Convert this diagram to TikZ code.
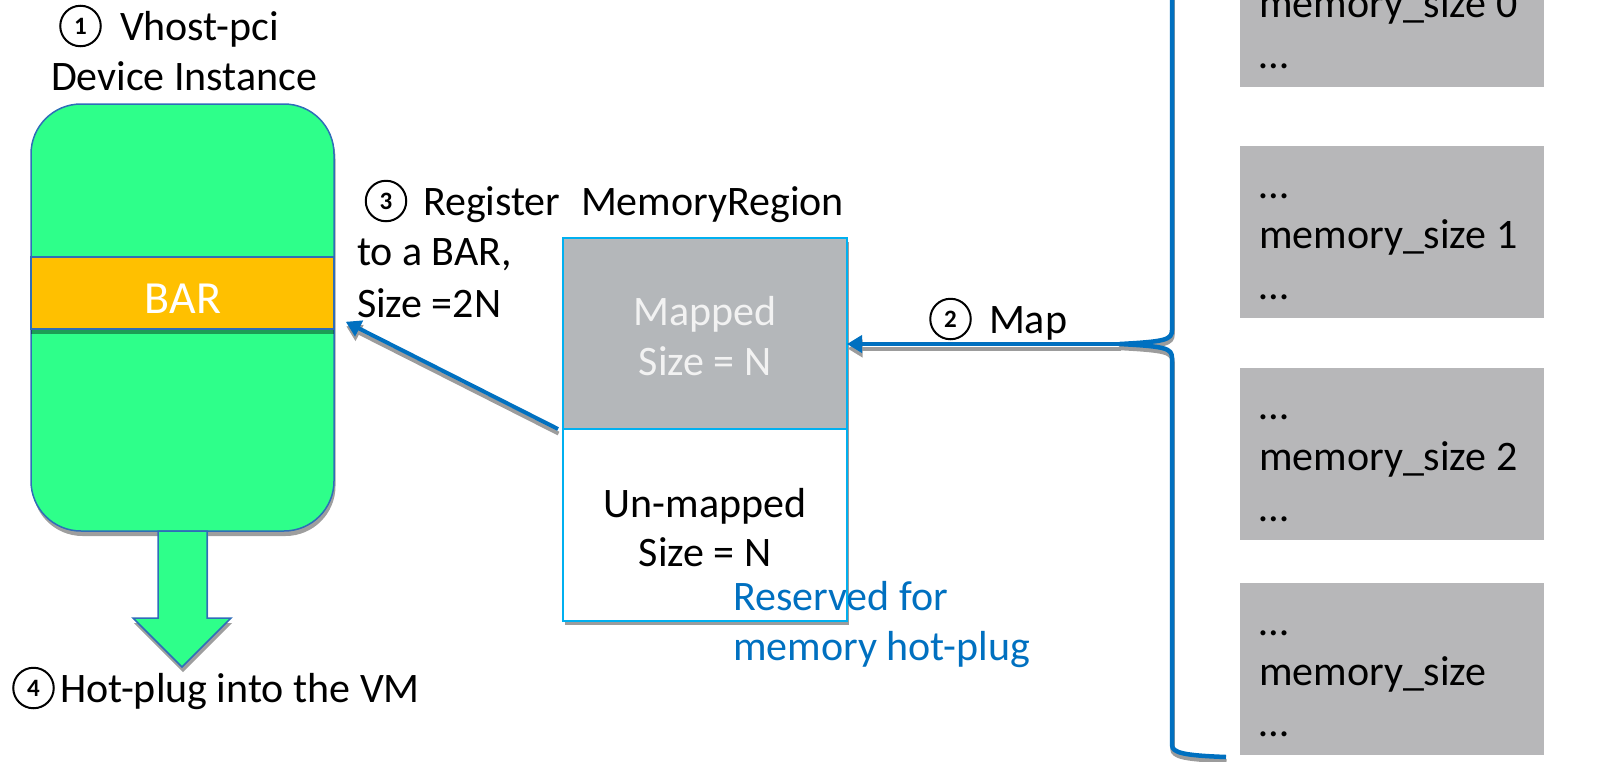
\documentclass[tikz,border=0pt]{standalone}
\usepackage{fontspec}
\setmainfont{Carlito}
\usetikzlibrary{arrows.meta}

\definecolor{devgreen}{HTML}{2EFF8A}
\definecolor{barorange}{HTML}{FFC000}
\definecolor{lineblue}{HTML}{0070C0}
\definecolor{edgeblue}{HTML}{2F6DB8}
\definecolor{regioncyan}{HTML}{00B0F0}
\definecolor{mapgray}{HTML}{B4B7BA}
\definecolor{slotgray}{HTML}{B7B7B9}
\definecolor{shadegray}{HTML}{9C9C9C}
\definecolor{paletext}{HTML}{F2F2F2}

\tikzset{
  lbl/.style={inner sep=0pt, outer sep=0pt, anchor=base west, font=\fontsize{42}{50}\selectfont, text=black},
  clbl/.style={lbl, anchor=base},
  stepnum/.style={draw=black, circle, line width=2pt, minimum size=40.5pt, inner sep=0pt, outer sep=0pt,
    text=black, font=\fontsize{25}{25}\selectfont\bfseries},
  softshadow/.style={fill=black, fill opacity=0.38, draw=none},
  flow/.style={draw=lineblue, line width=4pt, -{Triangle[length=15pt,width=17pt]}},
  flowshadow/.style={draw=shadegray, line width=4pt, -{Triangle[length=15pt,width=17pt]},
    transform canvas={shift={(0.5pt,-4.5pt)}}},
  region/.style={draw=none, inner sep=0pt, outer sep=0pt, minimum width=284pt},
  slot/.style={fill=slotgray, draw=none, inner sep=0pt, minimum width=304pt, minimum height=172pt},
}

\begin{document}
\begin{tikzpicture}[x=1pt,y=-1pt]
\useasboundingbox (0,0) rectangle (1600,761);
\clip (0,0) rectangle (1600,761);

% ---------- vhost-pci device ----------
\node[softshadow, rounded corners=50pt, minimum width=303pt, minimum height=427pt, inner sep=0pt]
  (devshadow) at (184,322.5) {};
\node[fill=devgreen, draw=edgeblue, line width=1.5pt, rounded corners=50pt,
  minimum width=303pt, minimum height=427pt, inner sep=0pt] (dev) at (182.5,317.5) {};
\node[softshadow, minimum width=303pt, minimum height=72pt, inner sep=0pt] (barshadow) at (182.5,297.5) {};
\node[fill=barorange, draw=edgeblue, line width=1.5pt, minimum width=303pt, minimum height=72pt,
  inner sep=0pt] (bar) at (182.5,293) {};
\node[clbl, text=white, font=\fontsize{46}{46}\selectfont] (bartext) at (183,313) {BAR};

% hot-plug block arrow
\fill[black, fill opacity=0.38, shift={(1,5)}]
  (158,531) -- (207,531) -- (207,618) -- (231,618) -- (182,667) -- (133,618) -- (158,618) -- cycle;
\draw[fill=devgreen, draw=edgeblue, line width=1.5pt, line join=miter]
  (158,531) -- (207,531) -- (207,618) -- (231,618) -- (182,667) -- (133,618) -- (158,618) -- cycle;

% ---------- labels on the left ----------
\node[stepnum] (n1) at (80.5,26) {1};
\node[lbl] (step1) at (120,40) {Vhost-pci};
\node[lbl] (devname) at (51,90) {Device Instance};
\node[stepnum] (n3) at (386,201) {3};
\node[lbl] (step3) at (423,215) {Register};
\node[lbl] (step3m) at (581,215) {MemoryRegion};
\node[lbl] (step3b) at (357,265) {to a BAR,};
\node[lbl] (step3c) at (357,317) {Size =2N};
\node[stepnum] (n4) at (33.5,688) {4};
\node[lbl] (step4) at (60,702) {Hot-plug into the VM};

% ---------- MemoryRegion ----------
\fill[shadegray] (565,242) rectangle (849,625);
\node[region, fill=mapgray, minimum height=191pt] (mapped) at (705,333.5) {};
\node[region, fill=white, minimum height=192pt] (unmapped) at (705,525) {};
\node[clbl, text=paletext] (mappedtxt) at (705,325) {Mapped};
\node[clbl, text=paletext] (mappedsize) at (705,375) {Size = N};
\node[clbl] (unmappedtxt) at (705,517) {Un-mapped};
\node[clbl] (unmappedsize) at (705,566) {Size = N};
\node[lbl, text=lineblue] (reserved) at (733,610) {Reserved for};
\node[lbl, text=lineblue] (reserved2) at (733,660) {memory hot-plug};
\draw[regioncyan, line width=2pt] (mapped.north west) rectangle (unmapped.south east);
\draw[regioncyan, line width=2pt] (mapped.south west) -- (mapped.south east);

% ---------- guest memory slots ----------
\node[slot] (slot0) at (1392,1) {};
\node[slot] (slot1) at (1392,232) {};
\node[slot] (slot2) at (1392,454) {};
\node[slot] (slot3) at (1392,669) {};
\node[lbl] (s0b) at (1259,17) {memory\_size 0};
\node[lbl] (s0c) at (1259,68) {\textellipsis};
\node[lbl] (s1a) at (1259,198) {\textellipsis};
\node[lbl] (s1b) at (1259,248) {memory\_size 1};
\node[lbl] (s1c) at (1259,299) {\textellipsis};
\node[lbl] (s2a) at (1259,419) {\textellipsis};
\node[lbl] (s2b) at (1259,470) {memory\_size 2};
\node[lbl] (s2c) at (1259,521) {\textellipsis};
\node[lbl] (s3a) at (1259,635) {\textellipsis};
\node[lbl] (s3b) at (1259,685) {memory\_size};
\node[lbl] (s3c) at (1259,736) {\textellipsis};

% ---------- brace gathering the slots ----------
\coordinate (bracetip) at (1120,344);
\def\bracepath{(1172,-20) -- (1172,330) .. controls (1172,340) and (1165,341.5) .. (bracetip)
  .. controls (1165,346.5) and (1172,348) .. (1172,358) -- (1172,745)
  .. controls (1172,753) and (1185,755.5) .. (1226,757)}
\draw[shadegray, line width=4.5pt, line join=round, transform canvas={shift={(0.5pt,-4pt)}}] \bracepath;
\draw[lineblue, line width=4.5pt, line join=round] \bracepath;

% ---------- step arrows ----------
\node[stepnum] (n2) at (950.5,319) {2};
\node[lbl] (step2) at (989,333) {Map};
\draw[flowshadow] (bracetip) -- (bracetip -| mapped.east);
\draw[flow] (bracetip) -- (bracetip -| mapped.east);

\coordinate (regtail) at ([xshift=-5pt]mapped.south west);
\coordinate (reghead) at ([xshift=11pt,yshift=8pt]bar.south east);
\draw[flowshadow] (regtail) -- (reghead);
\draw[flow] (regtail) -- (reghead);
\end{tikzpicture}
\end{document}
